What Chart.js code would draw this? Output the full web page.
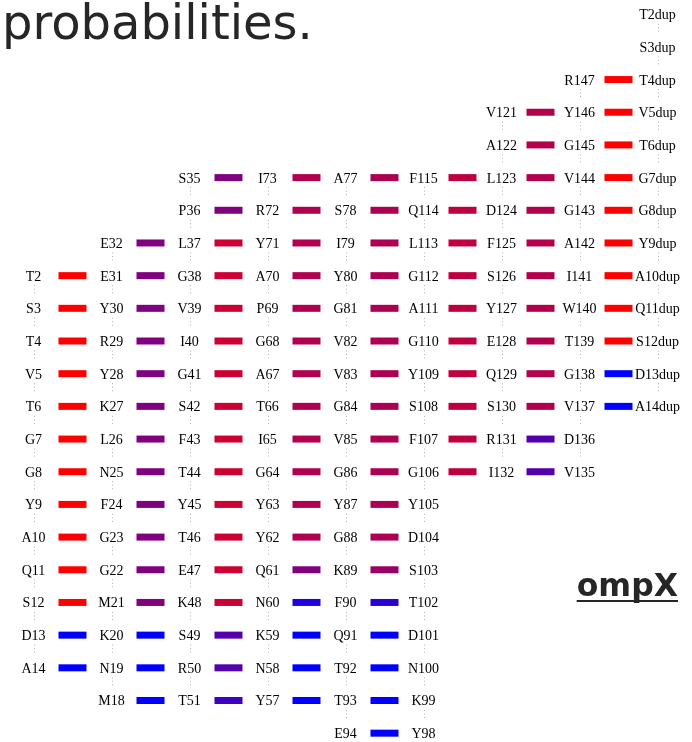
<!DOCTYPE html>
<html>
<head>
<meta charset="utf-8">
<script src="https://cdn.jsdelivr.net/npm/chart.js@4/dist/chart.umd.min.js"></script>
<style>
  html, body { margin: 0; padding: 0; background: #fff; }
  #wrap { width: 692px; height: 742px; position: relative; }
</style>
</head>
<body>
<div id="wrap"><canvas id="sheet"></canvas></div>
<script>
// residue names of each strand, top to bottom
const strand1 = ['T2', 'S3', 'T4', 'V5', 'T6', 'G7', 'G8', 'Y9', 'A10', 'Q11', 'S12', 'D13', 'A14'];
const strand2 = ['E32', 'E31', 'Y30', 'R29', 'Y28', 'K27', 'L26', 'N25', 'F24', 'G23', 'G22', 'M21', 'K20', 'N19', 'M18'];
const strand3 = ['S35', 'P36', 'L37', 'G38', 'V39', 'I40', 'G41', 'S42', 'F43', 'T44', 'Y45', 'T46', 'E47', 'K48', 'S49', 'R50', 'T51'];
const strand4 = ['I73', 'R72', 'Y71', 'A70', 'P69', 'G68', 'A67', 'T66', 'I65', 'G64', 'Y63', 'Y62', 'Q61', 'N60', 'K59', 'N58', 'Y57'];
const strand5 = ['A77', 'S78', 'I79', 'Y80', 'G81', 'V82', 'V83', 'G84', 'V85', 'G86', 'Y87', 'G88', 'K89', 'F90', 'Q91', 'T92', 'T93', 'E94'];
const strand6 = ['F115', 'Q114', 'L113', 'G112', 'A111', 'G110', 'Y109', 'S108', 'F107', 'G106', 'Y105', 'D104', 'S103', 'T102', 'D101', 'N100', 'K99', 'Y98'];
const strand7 = ['V121', 'A122', 'L123', 'D124', 'F125', 'S126', 'Y127', 'E128', 'Q129', 'S130', 'R131', 'I132'];
const strand8 = ['R147', 'Y146', 'G145', 'V144', 'G143', 'A142', 'I141', 'W140', 'T139', 'G138', 'V137', 'D136', 'V135'];
const strand9 = ['T2dup', 'S3dup', 'T4dup', 'V5dup', 'T6dup', 'G7dup', 'G8dup', 'Y9dup', 'A10dup', 'Q11dup', 'S12dup', 'D13dup', 'A14dup'];

// register row of the first residue in each strand
const strandStart = [8, 7, 5, 5, 5, 5, 3, 2, 0];

// pairing probability of each neighbouring strand pair, one per shared row
const pair12 = [1, 1, 1, 1, 1, 1, 1, 1, 1, 1, 1, 0, 0];
const pair23 = [0.5, 0.5, 0.5, 0.5, 0.5, 0.5, 0.5, 0.5, 0.5, 0.5, 0.5, 0.5, 0, 0, 0];
const pair34 = [0.5, 0.5, 0.8, 0.8, 0.8, 0.8, 0.8, 0.8, 0.8, 0.8, 0.8, 0.8, 0.8, 0.8, 0.33, 0.33, 0.25];
const pair45 = [0.69, 0.69, 0.69, 0.69, 0.69, 0.69, 0.69, 0.69, 0.69, 0.69, 0.69, 0.69, 0.5, 0.12, 0, 0, 0];
const pair56 = [0.68, 0.68, 0.68, 0.68, 0.68, 0.68, 0.68, 0.68, 0.68, 0.68, 0.68, 0.68, 0.6, 0.17, 0, 0, 0, 0];
const pair67 = [0.75, 0.75, 0.75, 0.75, 0.75, 0.75, 0.75, 0.75, 0.75, 0.75];
const pair78 = [0.7, 0.7, 0.7, 0.7, 0.7, 0.7, 0.7, 0.7, 0.7, 0.7, 0.32, 0.32];
const pair89 = [1, 1, 1, 1, 1, 1, 1, 1, 1, 0, 0];

const strands = [strand1, strand2, strand3, strand4, strand5, strand6, strand7, strand8, strand9];
const pairs = [pair12, pair23, pair34, pair45, pair56, pair67, pair78, pair89];

// red for certain pairing, blue for none
function probColor(p) {
  const r = Math.round(255 * p);
  const b = Math.round(255 * (1 - p));
  return 'rgb(' + r + ',0,' + b + ')';
}

const datasets = pairs.map((probs, i) => {
  const first = Math.max(strandStart[i], strandStart[i + 1]);
  return {
    data: probs.map((p, k) => ({ x: i + 0.5, y: first + k, p })),
    pointStyle: 'line',
    pointRadius: 14,
    pointHoverRadius: 14,
    pointBorderWidth: 7,
    pointHoverBorderWidth: 7,
    pointBorderColor: ctx => probColor(ctx.raw ? ctx.raw.p : 0)
  };
});

const residueLabels = {
  id: 'residueLabels',
  afterDatasetsDraw(chart) {
    const { ctx, scales: { x, y } } = chart;
    ctx.save();

    // dotted links between residues of one strand
    ctx.strokeStyle = '#b0b0b0';
    ctx.lineWidth = 1;
    ctx.setLineDash([1, 2.5]);
    strands.forEach((names, s) => {
      const px = Math.round(x.getPixelForValue(s)) + 0.5;
      for (let k = 0; k < names.length - 1; k++) {
        const py = y.getPixelForValue(strandStart[s] + k);
        ctx.beginPath();
        ctx.moveTo(px, py + 9.5);
        ctx.lineTo(px, py + 20);
        ctx.stroke();
      }
    });
    ctx.setLineDash([]);

    // residue names
    ctx.fillStyle = '#000';
    ctx.font = '14px "Liberation Serif", "Times New Roman", serif';
    ctx.textAlign = 'center';
    ctx.textBaseline = 'alphabetic';
    strands.forEach((names, s) => {
      const px = x.getPixelForValue(s);
      names.forEach((name, k) => {
        const py = y.getPixelForValue(strandStart[s] + k);
        ctx.fillText(name, px, py + 5);
      });
    });

    // heading, clipped at the top of the sheet
    ctx.fillStyle = '#262626';
    ctx.textAlign = 'left';
    ctx.font = '48px "DejaVu Sans", sans-serif';
    ctx.fillText('probabilities.', 2, 39);

    // protein name, underlined
    ctx.font = 'bold 31.5px "DejaVu Sans", sans-serif';
    ctx.textAlign = 'right';
    const name = 'ompX';
    const w = ctx.measureText(name).width;
    ctx.fillText(name, 678, 596);
    ctx.fillRect(678 - w, 600, w, 2);

    ctx.restore();
  }
};

new Chart(document.getElementById('sheet'), {
  type: 'scatter',
  data: { datasets },
  options: {
    responsive: true,
    maintainAspectRatio: false,
    animation: false,
    events: [],
    layout: { padding: 0, autoPadding: false },
    plugins: {
      legend: { display: false },
      tooltip: { enabled: false }
    },
    scales: {
      x: { type: 'linear', display: false, min: -0.4295, max: 8.4423 },
      y: { type: 'linear', display: false, reverse: true, min: -0.4345, max: 22.27 }
    }
  },
  plugins: [residueLabels]
});
</script>
</body>
</html>
